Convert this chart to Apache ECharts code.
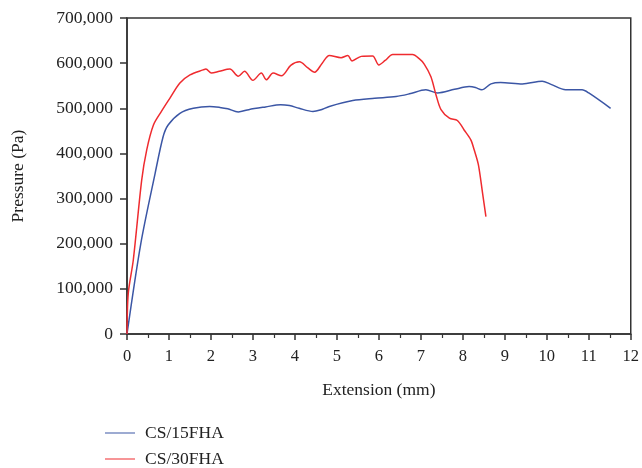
<!DOCTYPE html>
<html>
<head>
<meta charset="utf-8">
<script src="https://cdn.jsdelivr.net/npm/echarts@6/dist/echarts.min.js"></script>
<style>
    html, body { margin: 0; padding: 0; background: #fff; }
    #chart { width: 642px; height: 468px; }
</style>
</head>
<body>
<div id="chart"></div>
<script>
;(function () {

    'use strict';

    // Extension (mm), Pressure (Pa)
    var cs15Extension = [0, 0.33, 0.67, 0.86, 0.98, 1.26, 1.58, 1.97, 2.21, 2.4, 2.65, 2.9, 3.3, 3.66, 3.87, 4.1, 4.43, 4.6, 4.82, 5.38, 5.9, 6.41, 6.73, 7.12, 7.4, 7.8, 8.15, 8.3, 8.45, 8.67, 8.9, 9.42, 9.89, 10.1, 10.45, 10.84, 11.0, 11.52];
    var cs15Pressure = [0, 201000, 356000, 437000, 463000, 489000, 500000, 504000, 502000, 499000, 492000, 497000, 503000, 508000, 506000, 500000, 493000, 496000, 504000, 517000, 522000, 526000, 532000, 541000, 534000, 542000, 548000, 546000, 541000, 554000, 557000, 554000, 560000, 553000, 541000, 541000, 534000, 500000];

    var cs30Extension = [0, 0.03, 0.15, 0.35, 0.47, 0.63, 0.82, 1.02, 1.26, 1.5, 1.81, 1.88, 2.01, 2.2, 2.45, 2.65, 2.8, 3.0, 3.2, 3.32, 3.48, 3.68, 3.9, 4.11, 4.3, 4.47, 4.65, 4.82, 5.1, 5.26, 5.36, 5.58, 5.85, 6.0, 6.15, 6.33, 6.8, 6.96, 7.08, 7.24, 7.36, 7.48, 7.68, 7.87, 8.03, 8.19, 8.27, 8.37, 8.47, 8.55];
    var cs30Pressure = [0, 90000, 164000, 341000, 408000, 463000, 493000, 522000, 556000, 574000, 585000, 587000, 578000, 582000, 587000, 571000, 582000, 562000, 578000, 563000, 578000, 572000, 595000, 603000, 590000, 580000, 600000, 617000, 612000, 617000, 605000, 615000, 616000, 596000, 606000, 619000, 619000, 610000, 598000, 570000, 530000, 497000, 478000, 473000, 452000, 430000, 408000, 375000, 312000, 260000];

    var seriesNames = ['CS/15FHA', 'CS/30FHA'];
    var seriesColors = ['#3b56a5', '#ef2b2f'];

    var pairs = function (xs, ys) {
        return xs.map(function (x, i) { return [x, ys[i]]; });
    };

    var font = '"Liberation Serif", "DejaVu Serif", serif';
    var ink = '#333';
    var textInk = '#222';

    // one legend block per row, stacked like the original
    var legendRow = function (name, top) {
        return {
            left: 100, top: top,
            itemWidth: 30, itemHeight: 10,
            icon: 'path://M0,4.5L30,4.5L30,5.5L0,5.5Z',
            textStyle: { fontFamily: font, fontSize: 17.5, color: textInk, padding: [0, 0, 0, 5] },
            data: [name]
        };
    };

    var chart = echarts.init(document.getElementById('chart'));

    var option = {
        animation: false,
        textStyle: { fontFamily: font },
        grid: {
            left: 127, right: 10, top: 18, bottom: 134,
            show: true, borderColor: ink, borderWidth: 1.5,
            backgroundColor: 'transparent'
        },
        legend: [
            legendRow(seriesNames[0], 419),
            legendRow(seriesNames[1], 445)
        ],
        xAxis: {
            type: 'value',
            min: 0, max: 12, interval: 1,
            name: 'Extension (mm)',
            nameLocation: 'middle',
            nameGap: 47,
            nameTextStyle: { fontFamily: font, fontSize: 17.5, color: textInk },
            axisLine: { lineStyle: { color: ink, width: 1.5 } },
            axisTick: { length: 6, lineStyle: { color: ink, width: 1.5 } },
            minorTick: { show: true, splitNumber: 2, length: 4, lineStyle: { color: ink, width: 1.2 } },
            axisLabel: { fontFamily: font, fontSize: 16.5, color: textInk, margin: 14 },
            splitLine: { show: false }
        },
        yAxis: {
            type: 'value',
            min: 0, max: 700000, interval: 100000,
            name: 'Pressure (Pa)',
            nameLocation: 'middle',
            nameGap: 100,
            nameTextStyle: { fontFamily: font, fontSize: 17.5, color: textInk },
            axisLine: { lineStyle: { color: ink, width: 1.5 } },
            axisTick: { length: 7, lineStyle: { color: ink, width: 1.5 } },
            axisLabel: {
                fontFamily: font, fontSize: 17.5, color: textInk, margin: 14,
                formatter: function (v) { return v.toLocaleString('en-US'); }
            },
            splitLine: { show: false }
        },
        series: [
            {
                name: seriesNames[0],
                type: 'line',
                data: pairs(cs15Extension, cs15Pressure),
                showSymbol: false,
                smooth: 0.3,
                color: seriesColors[0],
                lineStyle: { width: 1.5 }
            },
            {
                name: seriesNames[1],
                type: 'line',
                data: pairs(cs30Extension, cs30Pressure),
                showSymbol: false,
                smooth: 0.3,
                color: seriesColors[1],
                lineStyle: { width: 1.5 }
            }
        ]
    };

    chart.setOption(option);

}());
</script>
</body>
</html>
